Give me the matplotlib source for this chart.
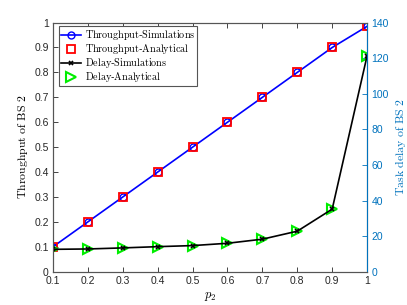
import matplotlib
matplotlib.use("Agg")
import matplotlib.pyplot as plt

plt.rcParams['mathtext.fontset'] = 'cm'
plt.rcParams['font.family'] = ['Liberation Sans', 'DejaVu Sans']

p2 = [0.1, 0.2, 0.3, 0.4, 0.5, 0.6, 0.7, 0.8, 0.9, 1.0]
thr_sim = [0.1, 0.2, 0.3, 0.4, 0.5, 0.6, 0.7, 0.8, 0.9, 0.985]
thr_ana = [0.1, 0.2, 0.3, 0.4, 0.5, 0.6, 0.7, 0.8, 0.9, 0.985]
delay_sim = [12.6, 12.8, 13.4, 14.1, 14.7, 16.0, 18.3, 22.8, 35.2, 121.4]
delay_ana = [12.6, 12.8, 13.4, 14.1, 14.7, 16.0, 18.3, 22.8, 35.2, 121.4]

right_col = (0.0, 0.447, 0.741)
grey = '#555555'

fig = plt.figure(figsize=(4.07, 3.05), dpi=100)
ax = fig.add_axes([0.130, 0.109, 0.772, 0.817])
ax2 = ax.twinx()

l1, = ax.plot(p2, thr_sim, '-', color='blue', lw=1.2, marker='o', ms=5,
              mfc='none', mec='blue', mew=1.0)
l2, = ax.plot(p2, thr_ana, 's', color='red', ms=6, mfc='none', mew=1.3, ls='none')
l4, = ax2.plot(p2, delay_ana, '>', color='#00ee00', ms=7, mfc='none', mew=1.5, ls='none')
l3, = ax2.plot(p2, delay_sim, '-', color='black', lw=1.2, marker='x', ms=3, mew=1.2)

ax.set_xlim(0.1, 1)
ax.set_ylim(0, 1)
ax.set_xticks([0.1, 0.2, 0.3, 0.4, 0.5, 0.6, 0.7, 0.8, 0.9, 1])
ax.set_xticklabels(['0.1', '0.2', '0.3', '0.4', '0.5', '0.6', '0.7', '0.8', '0.9', '1'])
ax.set_yticks([0, 0.1, 0.2, 0.3, 0.4, 0.5, 0.6, 0.7, 0.8, 0.9, 1])
ax.set_yticklabels(['0', '0.1', '0.2', '0.3', '0.4', '0.5', '0.6', '0.7', '0.8', '0.9', '1'])
ax2.set_ylim(0, 140)
ax2.set_yticks([0, 20, 40, 60, 80, 100, 120, 140])

for a in (ax, ax2):
    for s in a.spines.values():
        s.set_color(grey)
        s.set_linewidth(0.8)
ax2.spines['right'].set_color(right_col)
ax.tick_params(axis='both', direction='in', length=3.5, width=0.6, colors='#262626',
               labelsize=7.5, top=True, pad=3)
ax.tick_params(axis='y', right=False)
ax2.tick_params(axis='y', direction='in', length=3.5, width=0.6, colors=right_col,
                labelsize=7.5, pad=3)

ax.set_xlabel(r'$p_2$', fontsize=9, labelpad=3)
ax.set_ylabel(r'$\mathrm{Throughput\ of\ BS\ 2}$', fontsize=8.5, labelpad=3)
ax2.set_ylabel(r'$\mathrm{Task\ delay\ of\ BS\ 2}$', fontsize=8.5, color=right_col, labelpad=3)

leg = ax.legend([l1, l2, l3, l4],
                [r'$\mathrm{Throughput}$-$\mathrm{Simulations}$',
                 r'$\mathrm{Throughput}$-$\mathrm{Analytical}$',
                 r'$\mathrm{Delay}$-$\mathrm{Simulations}$',
                 r'$\mathrm{Delay}$-$\mathrm{Analytical}$'],
                loc='upper left', bbox_to_anchor=(0.018, 0.985), fontsize=7.3,
                frameon=True, fancybox=False, edgecolor=grey, framealpha=1,
                handlelength=2.0, handletextpad=0.4, borderpad=0.2,
                labelspacing=0.0, borderaxespad=0.0)
leg.get_frame().set_linewidth(0.8)
leg.remove()
ax2.add_artist(leg)

fig.savefig('out.png', dpi=100)
